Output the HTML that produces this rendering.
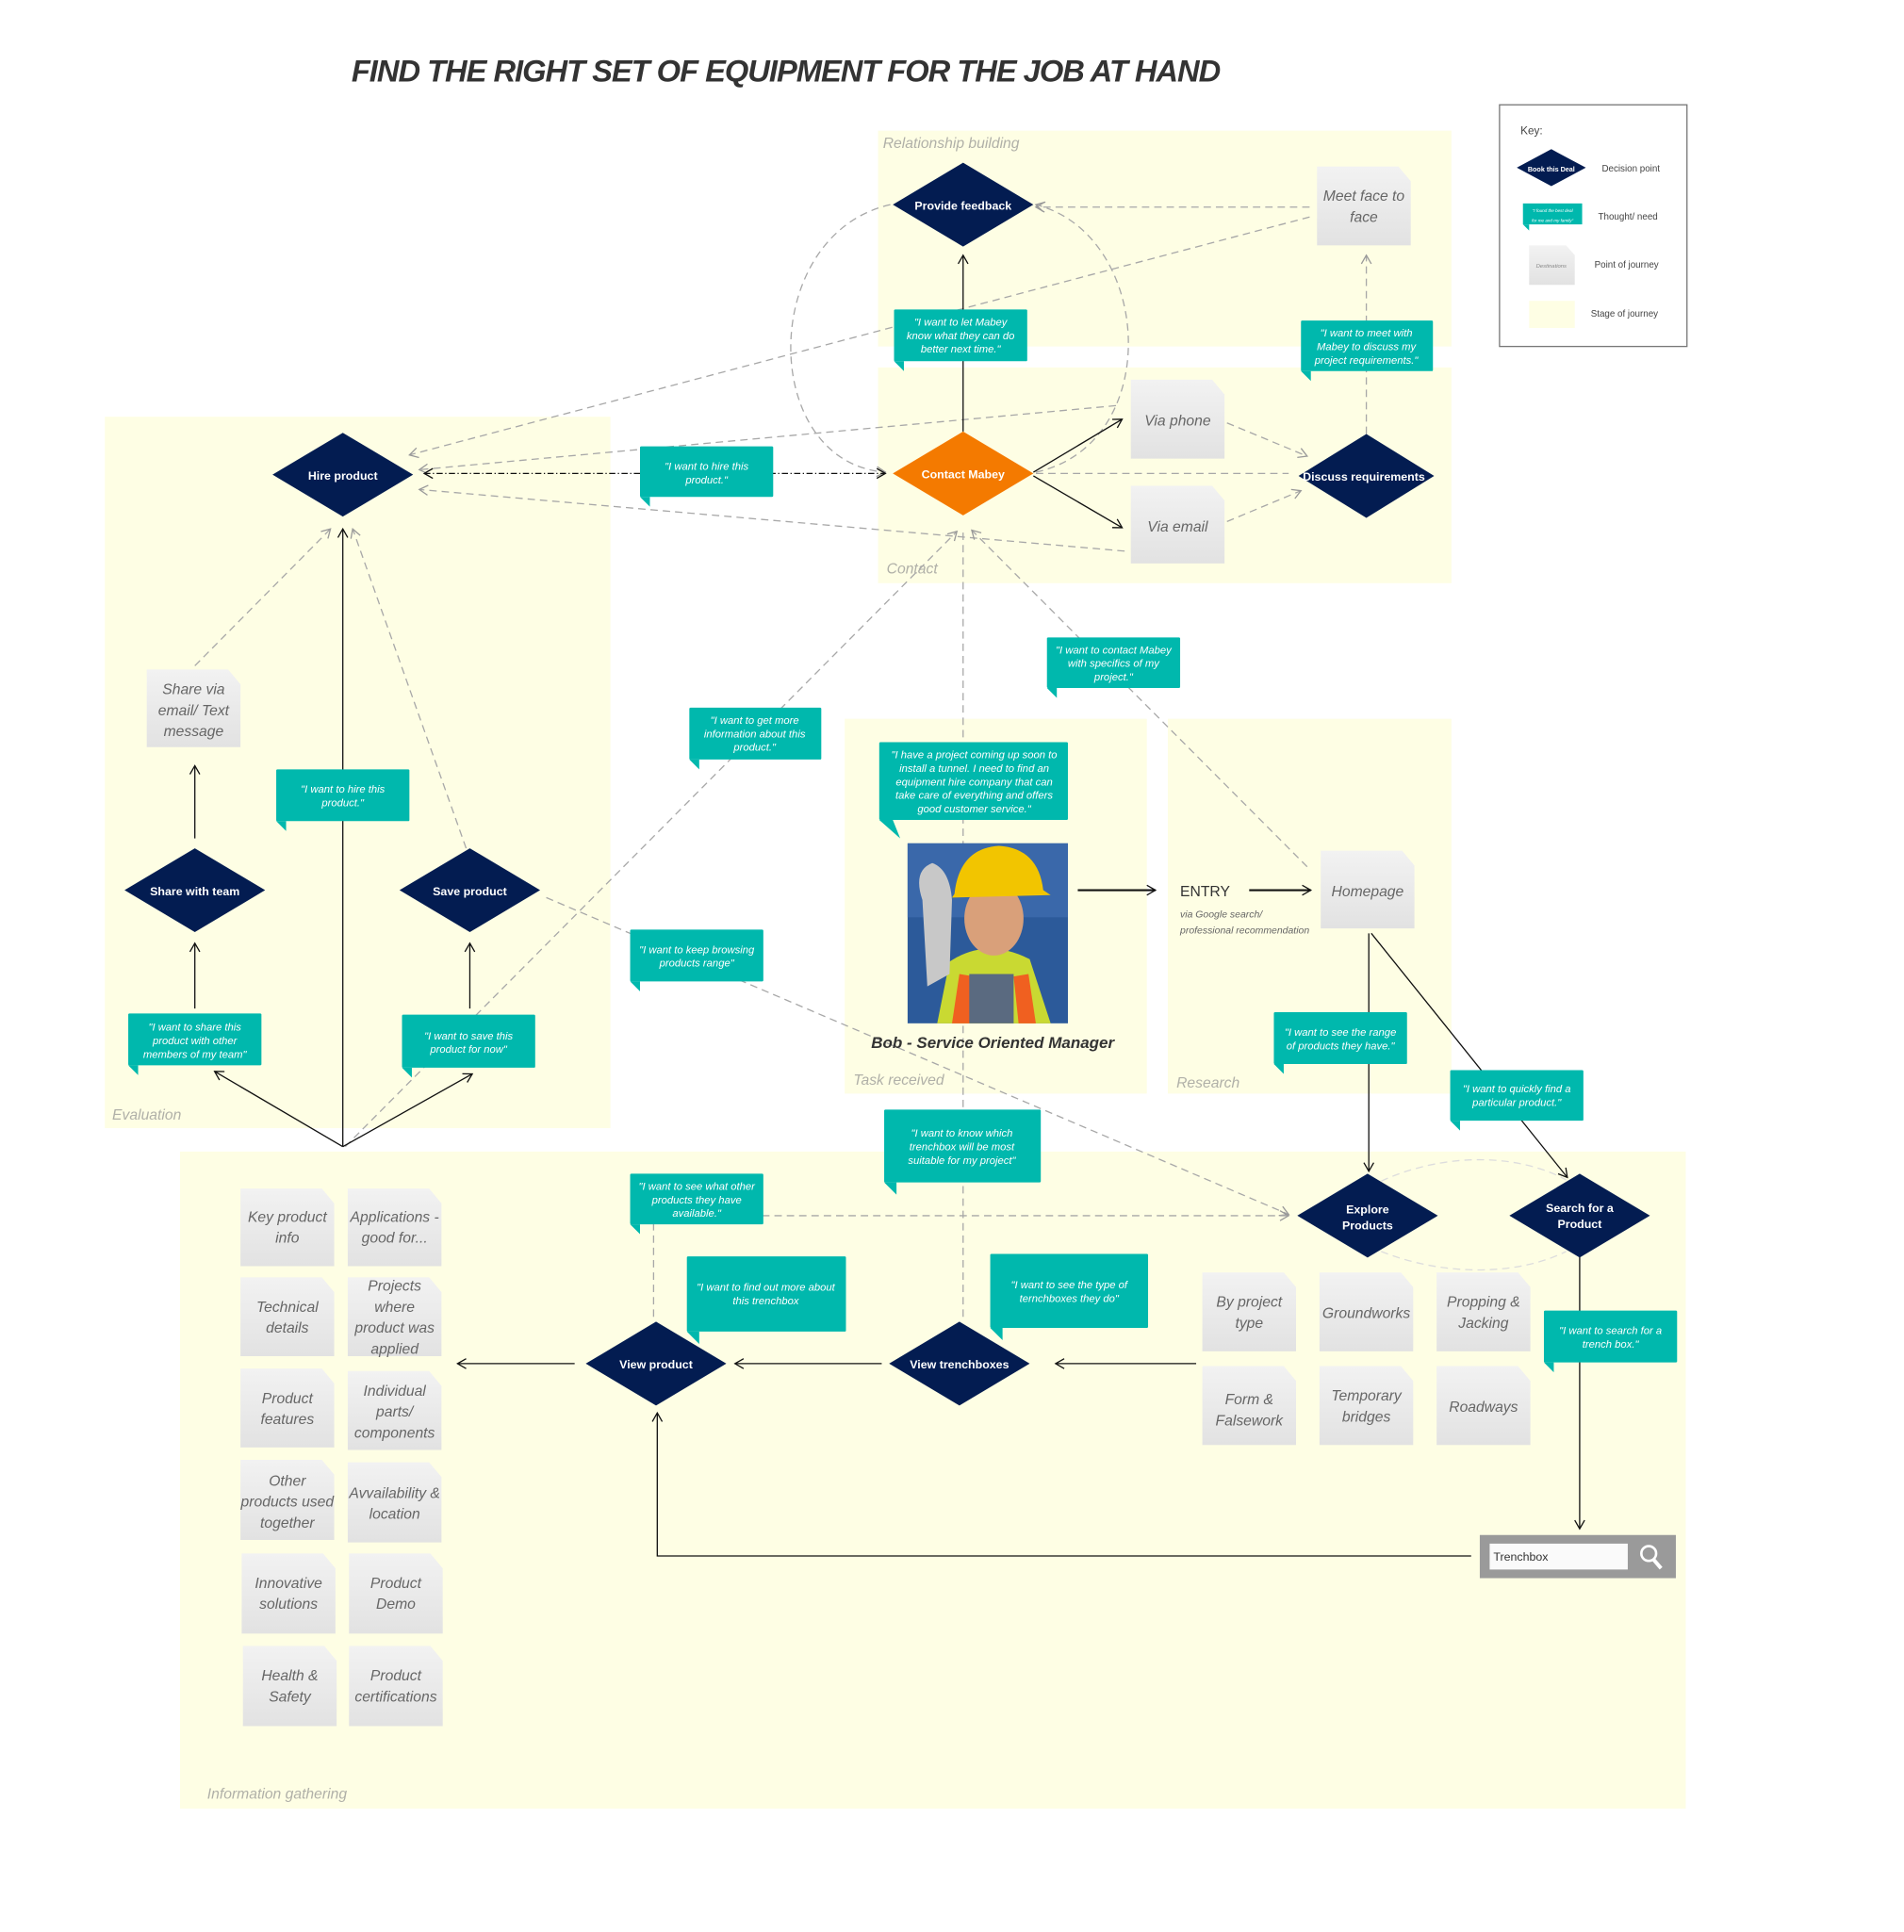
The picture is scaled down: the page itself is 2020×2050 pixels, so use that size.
<!DOCTYPE html>
<html><head><meta charset="utf-8"><style>
html,body{margin:0;padding:0;background:#fff}
svg{display:block}
text{font-family:"Liberation Sans",sans-serif}
.st{fill:#fefee4}
.sl{font-size:12px;font-style:italic;fill:#b0b0a8}
.dm{fill:#031c51}
.dt{fill:#fff;font-size:9.5px;font-weight:bold;text-anchor:middle}
.cb{fill:#00b8ad}
.ct{fill:#fff;font-size:8.6px;font-style:italic;text-anchor:middle}
.dc{fill:url(#g)}
.dx{fill:#666;font-size:12px;font-style:italic;text-anchor:middle}
.ds{stroke:#a8a8a8;stroke-width:1;stroke-dasharray:6 4;fill:none}
.so{stroke:#111;stroke-width:1;fill:none}
</style></head><body>
<svg width="2020" height="2050" viewBox="0 0 1544 1567" preserveAspectRatio="none" xmlns="http://www.w3.org/2000/svg">
<defs>
<linearGradient id="g" x1="0" y1="0" x2="0" y2="1"><stop offset="0" stop-color="#f2f2f2"/><stop offset="1" stop-color="#e2e2e2"/></linearGradient>
<marker id="a" markerWidth="10" markerHeight="10" refX="8" refY="5" orient="auto" markerUnits="userSpaceOnUse"><path d="M1,1 L8,5 L1,9" fill="none" stroke="#111" stroke-width="1"/></marker>
<marker id="ag" markerWidth="10" markerHeight="10" refX="8" refY="5" orient="auto" markerUnits="userSpaceOnUse"><path d="M1,1 L8,5 L1,9" fill="none" stroke="#999" stroke-width="1"/></marker>
<marker id="as" markerWidth="10" markerHeight="10" refX="8" refY="5" orient="auto-start-reverse" markerUnits="userSpaceOnUse"><path d="M1,1 L8,5 L1,9" fill="none" stroke="#111" stroke-width="1"/></marker>
</defs>

<text x="285" y="66" font-size="25" font-weight="bold" font-style="italic" fill="#333" textLength="705">FIND THE RIGHT SET OF EQUIPMENT FOR THE JOB AT HAND</text>

<rect class="st" x="712" y="106" width="465" height="175"/>
<rect class="st" x="712" y="298" width="465" height="175"/>
<rect class="st" x="85" y="338" width="410" height="577"/>
<rect class="st" x="685" y="583" width="245" height="304"/>
<rect class="st" x="947" y="583" width="230" height="304"/>
<rect class="st" x="146" y="934" width="1221" height="533"/>
<text class="sl" x="716" y="120">Relationship building</text>
<text class="sl" x="719" y="465">Contact</text>
<text class="sl" x="91" y="908">Evaluation</text>
<text class="sl" x="692" y="880">Task received</text>
<text class="sl" x="954" y="882">Research</text>
<text class="sl" x="168" y="1459">Information gathering</text>

<rect x="1216" y="85" width="152" height="196" fill="#fff" stroke="#777"/>
<text x="1233" y="109" font-size="9" fill="#444">Key:</text>
<polygon class="dm" points="1230,136 1258,121 1286,136 1258,151"/>
<text x="1258" y="139" fill="#fff" font-size="5.5" font-weight="bold" text-anchor="middle">Book this Deal</text>
<text x="1299" y="139" font-size="7.5" fill="#444">Decision point</text>
<rect class="cb" x="1235" y="165" width="48" height="17"/><polygon class="cb" points="1235,182 1240,182 1240,187"/>
<text x="1259" y="172" fill="#fff" font-size="3.5" text-anchor="middle" font-style="italic">"I found the best deal</text>
<text x="1259" y="180" fill="#fff" font-size="3.5" text-anchor="middle" font-style="italic">for me and my family"</text>
<text x="1296" y="178" font-size="7.5" fill="#444">Thought/ need</text>
<path class="dc" d="M1240,199 H1270 L1277,207 V231 H1240 Z"/>
<text x="1258" y="217" font-size="4.5" fill="#888" text-anchor="middle" font-style="italic">Destinations</text>
<text x="1293" y="217" font-size="7.5" fill="#444">Point of journey</text>
<rect class="st" x="1240" y="244" width="37" height="22"/>
<text x="1290" y="257" font-size="7.5" fill="#444">Stage of journey</text>

<g class="ds">
<path d="M1062,168 H840" marker-end="url(#ag)"/>
<path d="M1062,176 L332,369" marker-end="url(#ag)"/>
<path d="M905,329 L340,381" marker-end="url(#ag)"/>
<path d="M912,447 L340,397" marker-end="url(#ag)"/>
<path d="M995,343 L1060,370" marker-end="url(#ag)"/>
<path d="M995,423 L1055,398" marker-end="url(#ag)"/>
<path d="M840,384 H1045"/>
<path d="M1108,352 V207" marker-end="url(#ag)"/>
<path d="M722,166 C615,190 615,375 718,383" marker-end="url(#ag)"/>
<path d="M840,383 C945,360 935,190 840,166" marker-end="url(#ag)"/>
<path d="M1060,703 L788,430" marker-end="url(#ag)"/>
<path d="M280,930 L776,431" marker-end="url(#ag)"/>
<path d="M781,432 V1068"/>
<path d="M443,728 L1045,985" marker-end="url(#ag)"/>
<path d="M530,1068 V986 H1045" marker-end="url(#ag)"/>
<path d="M158,540 L268,429" marker-end="url(#ag)"/>
<path d="M378,688 L286,429" marker-end="url(#ag)"/>
<path d="M1120,958 C1170,935 1230,935 1270,957" stroke="#ddd"/>
<path d="M1120,1015 C1170,1035 1230,1035 1270,1015" stroke="#ddd"/>
</g>

<g class="so">
<path d="M781,350 V207" marker-end="url(#a)"/>
<path d="M838,383 L910,340" marker-end="url(#a)"/>
<path d="M838,386 L910,428" marker-end="url(#a)"/>
<path d="M344,384 H718" stroke-dasharray="5 2 1 2" marker-start="url(#as)" marker-end="url(#as)"/>
<path d="M278,930 V429" marker-end="url(#a)"/>
<path d="M278,930 L174,869" marker-end="url(#a)"/>
<path d="M278,930 L383,871" marker-end="url(#a)"/>
<path d="M158,680 V621" marker-end="url(#a)"/>
<path d="M158,818 V765" marker-end="url(#a)"/>
<path d="M381,818 V765" marker-end="url(#a)"/>
<path d="M874,722 H937" stroke-width="1.6" marker-end="url(#a)"/>
<path d="M1013,722 H1063" stroke-width="1.6" marker-end="url(#a)"/>
<path d="M1110,757 V950" marker-end="url(#a)"/>
<path d="M1112,757 L1271,955" marker-end="url(#a)"/>
<path d="M1281,1000 V1240" marker-end="url(#a)"/>
<path d="M1193,1262 H533 V1146" marker-end="url(#a)"/>
<path d="M970,1106 H856" marker-end="url(#a)"/>
<path d="M715,1106 H596" marker-end="url(#a)"/>
<path d="M466,1106 H371" marker-end="url(#a)"/>
</g>

<polygon class="dm" points="724,166 781,132 838,166 781,200"/><text class="dt" x="781" y="170">Provide feedback</text>
<polygon class="dm" points="221,385 278,351 335,385 278,419"/><text class="dt" x="278" y="389">Hire product</text>
<polygon points="724,384 781,350 838,384 781,418" fill="#f47a00"/><text class="dt" x="781" y="388">Contact Mabey</text>
<polygon class="dm" points="1053,386 1108,352 1163,386 1108,420"/><text class="dt" x="1106" y="390">Discuss requirements</text>
<polygon class="dm" points="101,722 158,688 215,722 158,756"/><text class="dt" x="158" y="726">Share with team</text>
<polygon class="dm" points="324,722 381,688 438,722 381,756"/><text class="dt" x="381" y="726">Save product</text>
<polygon class="dm" points="1052,986 1109,952 1166,986 1109,1020"/><text class="dt" x="1109" y="984">Explore</text><text class="dt" x="1109" y="997">Products</text>
<polygon class="dm" points="1224,986 1281,952 1338,986 1281,1020"/><text class="dt" x="1281" y="983">Search for a</text><text class="dt" x="1281" y="996">Product</text>
<polygon class="dm" points="475,1106 532,1072 589,1106 532,1140"/><text class="dt" x="532" y="1110">View product</text>
<polygon class="dm" points="721,1106 778,1072 835,1106 778,1140"/><text class="dt" x="778" y="1110">View trenchboxes</text>

<g>
<path class="dc" d="M1068,135 H1134 L1144,147 V199 H1068 Z"/><text class="dx" x="1106" y="163">Meet face to</text><text class="dx" x="1106" y="180">face</text>
<path class="dc" d="M917,308 H983 L993,320 V372 H917 Z"/><text class="dx" x="955" y="345">Via phone</text>
<path class="dc" d="M917,394 H983 L993,406 V457 H917 Z"/><text class="dx" x="955" y="431">Via email</text>
<path class="dc" d="M119,543 H185 L195,555 V606 H119 Z"/><text class="dx" x="157" y="563">Share via</text><text class="dx" x="157" y="580">email/ Text</text><text class="dx" x="157" y="597">message</text>
<path class="dc" d="M1071,690 H1137 L1147,702 V753 H1071 Z"/><text class="dx" x="1109" y="727">Homepage</text>

<path class="dc" d="M195,964 H261 L271,976 V1027 H195 Z"/><text class="dx" x="233" y="991">Key product</text><text class="dx" x="233" y="1008">info</text>
<path class="dc" d="M282,964 H348 L358,976 V1027 H282 Z"/><text class="dx" x="320" y="991">Applications -</text><text class="dx" x="320" y="1008">good for...</text>
<path class="dc" d="M195,1036 H261 L271,1048 V1100 H195 Z"/><text class="dx" x="233" y="1064">Technical</text><text class="dx" x="233" y="1081">details</text>
<path class="dc" d="M282,1036 H348 L358,1048 V1100 H282 Z"/><text class="dx" x="320" y="1047">Projects</text><text class="dx" x="320" y="1064">where</text><text class="dx" x="320" y="1081">product was</text><text class="dx" x="320" y="1098">applied</text>
<path class="dc" d="M195,1110 H261 L271,1122 V1174 H195 Z"/><text class="dx" x="233" y="1138">Product</text><text class="dx" x="233" y="1155">features</text>
<path class="dc" d="M282,1112 H348 L358,1124 V1176 H282 Z"/><text class="dx" x="320" y="1132">Individual</text><text class="dx" x="320" y="1149">parts/</text><text class="dx" x="320" y="1166">components</text>
<path class="dc" d="M195,1184 H261 L271,1196 V1249 H195 Z"/><text class="dx" x="233" y="1205">Other</text><text class="dx" x="233" y="1222">products used</text><text class="dx" x="233" y="1239">together</text>
<path class="dc" d="M282,1186 H348 L358,1198 V1251 H282 Z"/><text class="dx" x="320" y="1215">Avvailability &amp;</text><text class="dx" x="320" y="1232">location</text>
<path class="dc" d="M196,1260 H262 L272,1272 V1325 H196 Z"/><text class="dx" x="234" y="1288">Innovative</text><text class="dx" x="234" y="1305">solutions</text>
<path class="dc" d="M283,1260 H349 L359,1272 V1325 H283 Z"/><text class="dx" x="321" y="1288">Product</text><text class="dx" x="321" y="1305">Demo</text>
<path class="dc" d="M197,1335 H263 L273,1347 V1400 H197 Z"/><text class="dx" x="235" y="1363">Health &amp;</text><text class="dx" x="235" y="1380">Safety</text>
<path class="dc" d="M283,1335 H349 L359,1347 V1400 H283 Z"/><text class="dx" x="321" y="1363">Product</text><text class="dx" x="321" y="1380">certifications</text>

<path class="dc" d="M975,1032 H1041 L1051,1044 V1096 H975 Z"/><text class="dx" x="1013" y="1060">By project</text><text class="dx" x="1013" y="1077">type</text>
<path class="dc" d="M1070,1032 H1136 L1146,1044 V1096 H1070 Z"/><text class="dx" x="1108" y="1069">Groundworks</text>
<path class="dc" d="M1165,1032 H1231 L1241,1044 V1096 H1165 Z"/><text class="dx" x="1203" y="1060">Propping &amp;</text><text class="dx" x="1203" y="1077">Jacking</text>
<path class="dc" d="M975,1108 H1041 L1051,1120 V1172 H975 Z"/><text class="dx" x="1013" y="1139">Form &amp;</text><text class="dx" x="1013" y="1156">Falsework</text>
<path class="dc" d="M1070,1108 H1136 L1146,1120 V1172 H1070 Z"/><text class="dx" x="1108" y="1136">Temporary</text><text class="dx" x="1108" y="1153">bridges</text>
<path class="dc" d="M1165,1108 H1231 L1241,1120 V1172 H1165 Z"/><text class="dx" x="1203" y="1145">Roadways</text>
</g>

<g>
<rect class="cb" x="725" y="251" width="108" height="42" rx="1"/><polygon class="cb" points="725,293 733,293 733,301"/>
<text class="ct" x="779" y="264">"I want to let Mabey</text><text class="ct" x="779" y="275">know what they can do</text><text class="ct" x="779" y="286">better next time."</text>

<rect class="cb" x="1055" y="260" width="107" height="41" rx="1"/><polygon class="cb" points="1055,301 1063,301 1063,309"/>
<text class="ct" x="1108" y="273">"I want to meet with</text><text class="ct" x="1108" y="284">Mabey to discuss my</text><text class="ct" x="1108" y="295">project requirements."</text>

<rect class="cb" x="519" y="362" width="108" height="41" rx="1"/><polygon class="cb" points="519,403 527,403 527,411"/>
<text class="ct" x="573" y="381">"I want to hire this</text><text class="ct" x="573" y="392">product."</text>

<rect class="cb" x="849" y="517" width="108" height="41" rx="1"/><polygon class="cb" points="849,558 857,558 857,566"/>
<text class="ct" x="903" y="530">"I want to contact Mabey</text><text class="ct" x="903" y="541">with specifics of my</text><text class="ct" x="903" y="552">project."</text>

<rect class="cb" x="559" y="574" width="107" height="42" rx="1"/><polygon class="cb" points="559,616 567,616 567,624"/>
<text class="ct" x="612" y="587">"I want to get more</text><text class="ct" x="612" y="598">information about this</text><text class="ct" x="612" y="609">product."</text>

<rect class="cb" x="713" y="602" width="153" height="63" rx="1"/><polygon class="cb" points="713,665 724,665 730,680"/>
<text class="ct" x="790" y="615">"I have a project coming up soon to</text><text class="ct" x="790" y="626">install a tunnel. I need to find an</text><text class="ct" x="790" y="637">equipment hire company that can</text><text class="ct" x="790" y="648">take care of everything and offers</text><text class="ct" x="790" y="659">good customer service."</text>

<rect class="cb" x="224" y="624" width="108" height="42" rx="1"/><polygon class="cb" points="224,666 232,666 232,674"/>
<text class="ct" x="278" y="643">"I want to hire this</text><text class="ct" x="278" y="654">product."</text>

<rect class="cb" x="511" y="754" width="108" height="42" rx="1"/><polygon class="cb" points="511,796 519,796 519,804"/>
<text class="ct" x="565" y="773">"I want to keep browsing</text><text class="ct" x="565" y="784">products range"</text>

<rect class="cb" x="104" y="822" width="108" height="42" rx="1"/><polygon class="cb" points="104,864 112,864 112,872"/>
<text class="ct" x="158" y="836">"I want to share this</text><text class="ct" x="158" y="847">product with other</text><text class="ct" x="158" y="858">members of my team"</text>

<rect class="cb" x="326" y="823" width="108" height="43" rx="1"/><polygon class="cb" points="326,866 334,866 334,874"/>
<text class="ct" x="380" y="843">"I want to save this</text><text class="ct" x="380" y="854">product for now"</text>

<rect class="cb" x="1033" y="821" width="108" height="42" rx="1"/><polygon class="cb" points="1033,863 1041,863 1041,871"/>
<text class="ct" x="1087" y="840">"I want to see the range</text><text class="ct" x="1087" y="851">of products they have."</text>

<rect class="cb" x="1176" y="868" width="108" height="41" rx="1"/><polygon class="cb" points="1176,909 1184,909 1184,917"/>
<text class="ct" x="1230" y="886">"I want to quickly find a</text><text class="ct" x="1230" y="897">particular product."</text>

<rect class="cb" x="717" y="900" width="127" height="59" rx="1"/><polygon class="cb" points="717,959 727,959 727,969"/>
<text class="ct" x="780" y="922">"I want to know which</text><text class="ct" x="780" y="933">trenchbox will be most</text><text class="ct" x="780" y="944">suitable for my project"</text>

<rect class="cb" x="511" y="952" width="108" height="41" rx="1"/><polygon class="cb" points="511,993 519,993 519,1001"/>
<text class="ct" x="565" y="965">"I want to see what other</text><text class="ct" x="565" y="976">products they have</text><text class="ct" x="565" y="987">available."</text>

<rect class="cb" x="557" y="1019" width="129" height="61" rx="1"/><polygon class="cb" points="557,1080 567,1080 567,1090"/>
<text class="ct" x="621" y="1047">"I want to find out more about</text><text class="ct" x="621" y="1058">this trenchbox</text>

<rect class="cb" x="803" y="1017" width="128" height="60" rx="1"/><polygon class="cb" points="803,1077 813,1077 813,1087"/>
<text class="ct" x="867" y="1045">"I want to see the type of</text><text class="ct" x="867" y="1056">ternchboxes they do"</text>

<rect class="cb" x="1252" y="1063" width="108" height="42" rx="1"/><polygon class="cb" points="1252,1105 1260,1105 1260,1113"/>
<text class="ct" x="1306" y="1082">"I want to search for a</text><text class="ct" x="1306" y="1093">trench box."</text>
</g>

<g>
<rect x="736" y="684" width="130" height="146" fill="#2c5a9a"/>
<rect x="736" y="684" width="130" height="60" fill="#3a68aa"/>
<path d="M760,830 L770,780 Q800,760 835,778 L852,830 Z" fill="#c9d932"/>
<path d="M772,830 L778,790 L790,792 L786,830 Z" fill="#f06020"/>
<path d="M826,830 L822,792 L834,790 L840,830 Z" fill="#f06020"/>
<rect x="786" y="790" width="36" height="40" fill="#5a6a80"/>
<ellipse cx="806" cy="745" rx="24" ry="30" fill="#d9a07a"/>
<path d="M774,725 Q778,688 810,686 Q842,688 846,722 L852,726 L772,728 Z" fill="#f2c500"/>
<path d="M748,730 Q740,706 756,700 Q770,705 772,730 L770,790 L752,800 Z" fill="#c8c8c8"/>
</g>
<text x="805" y="850" font-size="13" font-weight="bold" font-style="italic" fill="#333" text-anchor="middle">Bob - Service Oriented Manager</text>

<text x="957" y="727" font-size="12" fill="#333">ENTRY</text>
<text x="957" y="744" font-size="8" font-style="italic" fill="#666">via Google search/</text>
<text x="957" y="757" font-size="8" font-style="italic" fill="#666">professional recommendation</text>

<rect x="1200" y="1245" width="159" height="35" fill="#9a9a9a"/>
<rect x="1208" y="1252" width="112" height="21" fill="#fafafa"/>
<text x="1211" y="1266" font-size="9.5" fill="#333">Trenchbox</text>
<circle cx="1337" cy="1260" r="6" fill="none" stroke="#fff" stroke-width="2"/>
<path d="M1341,1265 L1347,1272" stroke="#fff" stroke-width="3"/>
</svg>
</body></html>
